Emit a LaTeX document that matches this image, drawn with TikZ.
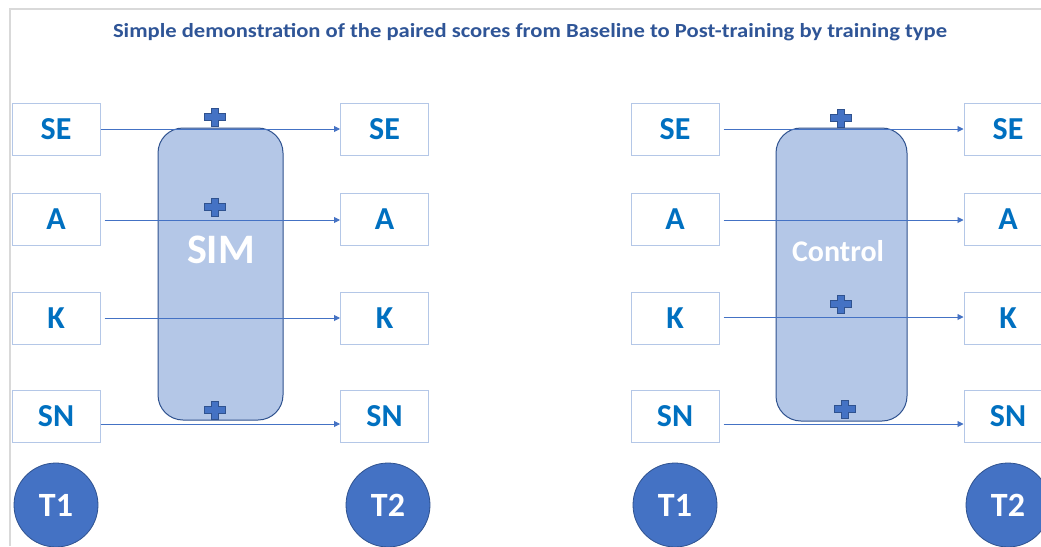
\documentclass[tikz,border=0pt]{standalone}
\usepackage{fontspec}
\setmainfont{Carlito}
\usetikzlibrary{arrows.meta}
\definecolor{boxtxt}{HTML}{0070C0}
\definecolor{boxline}{HTML}{B4C7E7}
\definecolor{titletxt}{HTML}{2F5597}
\definecolor{accent}{HTML}{4472C4}
\definecolor{accentdark}{HTML}{2F528F}
\definecolor{blockfill}{HTML}{B4C7E7}
\definecolor{framec}{HTML}{D9D9D9}
\begin{document}
\begin{tikzpicture}[x=1pt,y=-1pt,
  scorebox/.style={draw=boxline, line width=1pt, fill=white, minimum width=88pt, minimum height=52pt, inner sep=0pt, text=boxtxt, font=\bfseries\fontsize{32}{32}\selectfont},
  timecirc/.style={circle, draw=accentdark, line width=0.8pt, fill=accent, minimum size=84pt, inner sep=0pt, text=white, font=\bfseries\fontsize{34}{34}\selectfont},
  block/.style={draw=accentdark, line width=1pt, fill=blockfill, rounded corners=25pt, minimum width=125pt, minimum height=292pt, inner sep=0pt},
  conn/.style={draw=accent, line width=0.9pt, -{Triangle[width=6pt,length=6pt]}},
  plussign/.pic={\path[draw=accentdark, fill=accent, line width=0.6pt] (-3.5,-9)--(3.5,-9)--(3.5,-3.5)--(10.5,-3.5)--(10.5,3.5)--(3.5,3.5)--(3.5,9)--(-3.5,9)--(-3.5,3.5)--(-10.5,3.5)--(-10.5,-3.5)--(-3.5,-3.5)--cycle;}
]
\useasboundingbox (0,0) rectangle (1041,546);
\clip (0,0) rectangle (1041,546);
\fill[white] (0,0) rectangle (1041,546);
\draw[framec, line width=2pt] (10,546) -- (10,9) -- (1041,9);

\node (title) at (530,32) [text=titletxt, font=\bfseries\fontsize{20}{20}\selectfont] {\scalebox{1.13}[1]{Simple demonstration of the paired scores from Baseline to Post-training by training type}};

% ---- left group (SIM)
\node[block] (sim) at (220.5,274) {};
\node (simlbl) at (221,250) [text=white, font=\bfseries\fontsize{42}{42}\selectfont] {SIM};

\node[scorebox] (seA) at (56,129) {SE};
\node[scorebox] (aA) at (56,219) {A};
\node[scorebox] (kA) at (56,318) {K};
\node[scorebox] (snA) at (56,416) {SN};
\node[scorebox] (seB) at (384.5,129) {SE};
\node[scorebox] (aB) at (384.5,219) {A};
\node[scorebox] (kB) at (384.5,318) {K};
\node[scorebox] (snB) at (384.5,416) {SN};

\draw[conn] (seA.east) -- (seB.west);
\draw[conn, shorten <=4pt] ([yshift=-1pt]aA.east) -- ([yshift=-1pt]aB.west);
\draw[conn, shorten <=4pt] (kA.east) -- (kB.west);
\draw[conn] ([yshift=-8pt]snA.east) -- ([yshift=-8pt]snB.west);

\pic at (215,117) {plussign};
\pic at (215,207) {plussign};
\pic at (215,410) {plussign};

\node[timecirc] (t1a) at (56,505) {T1};
\node[timecirc] (t2a) at (388,505) {T2};

% ---- right group (Control)
\node[block, minimum width=131pt, minimum height=293pt] (ctl) at (841.5,274.5) {};
\node (ctllbl) at (838,251) [text=white, font=\bfseries\fontsize{30}{30}\selectfont] {Control};

\node[scorebox] (seC) at (675,129) {SE};
\node[scorebox] (aC) at (675,219) {A};
\node[scorebox] (kC) at (675,318) {K};
\node[scorebox] (snC) at (675,416) {SN};
\node[scorebox] (seD) at (1008,129) {SE};
\node[scorebox] (aD) at (1008,219) {A};
\node[scorebox] (kD) at (1008,318) {K};
\node[scorebox] (snD) at (1008,416) {SN};

\draw[conn, shorten <=4pt] (seC.east) -- (seD.west);
\draw[conn, shorten <=4pt] ([yshift=-1pt]aC.east) -- ([yshift=-1pt]aD.west);
\draw[conn, shorten <=4pt] ([yshift=1pt]kC.east) -- ([yshift=1pt]kD.west);
\draw[conn, shorten <=4pt] ([yshift=-8pt]snC.east) -- ([yshift=-8pt]snD.west);

\pic at (841,118) {plussign};
\pic at (841,304) {plussign};
\pic at (845,409) {plussign};

\node[timecirc] (t1b) at (675,505) {T1};
\node[timecirc] (t2b) at (1008,505) {T2};
\end{tikzpicture}
\end{document}
